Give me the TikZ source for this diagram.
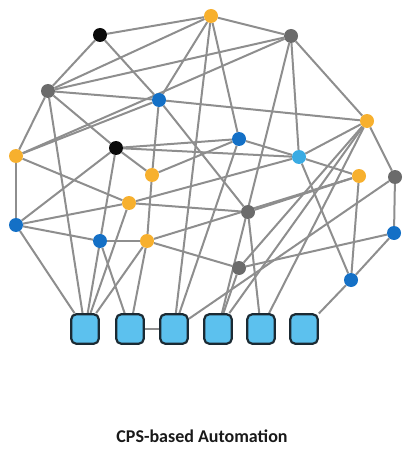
\documentclass[tikz,border=0pt]{standalone}
\usepackage{fontspec}
\setmainfont{Carlito}
\usetikzlibrary{backgrounds}
\definecolor{corange}{HTML}{F7B02E}
\definecolor{cblue}{HTML}{1470C6}
\definecolor{clight}{HTML}{3AABE3}
\definecolor{cgray}{HTML}{6B6B6B}
\definecolor{cblack}{HTML}{0A0A0A}
\definecolor{cedge}{HTML}{8E8E8E}
\definecolor{csqfill}{HTML}{5CC1EE}
\definecolor{csqline}{HTML}{1B2A33}
\begin{document}
\begin{tikzpicture}[x=1pt,y=-1pt,
  edge/.style={draw=cedge,line width=2pt},
  dot/.style={circle,inner sep=0pt,minimum size=14pt},
  ydot/.style={dot,fill=corange},
  bdot/.style={dot,fill=cblue},
  ldot/.style={dot,fill=clight},
  gdot/.style={dot,fill=cgray},
  kdot/.style={dot,fill=cblack},
  sq/.style={rectangle,rounded corners=5pt,fill=csqfill,draw=csqline,line width=2.2pt,minimum width=27.5pt,minimum height=29.5pt,inner sep=0pt},
  caption/.style={font=\bfseries\fontsize{18}{21}\selectfont,text=black!90}]
\useasboundingbox (0,0) rectangle (403,449);
% nodes
\node[kdot] (K1) at (100,35) {};
\node[ydot] (Y1) at (211,16) {};
\node[gdot] (G1) at (291,36) {};
\node[gdot] (G2) at (48,91) {};
\node[bdot] (B1) at (159,100) {};
\node[ydot] (Y2) at (367,121) {};
\node[kdot] (K2) at (116,148) {};
\node[bdot] (B2) at (239,139) {};
\node[ldot] (C1) at (299,157) {};
\node[ydot] (Y3) at (16,156) {};
\node[ydot] (Y4) at (152,175) {};
\node[ydot] (Y5) at (359,176) {};
\node[gdot] (G3) at (395,177) {};
\node[ydot] (Y6) at (129,203) {};
\node[gdot] (G4) at (248,212) {};
\node[bdot] (B3) at (16,225) {};
\node[bdot] (B4) at (100,241) {};
\node[ydot] (Y7) at (147,241) {};
\node[bdot] (B5) at (394,233) {};
\node[gdot] (G5) at (239,268) {};
\node[bdot] (B6) at (351,280) {};
\node[sq] (S1) at (85,329) {};
\node[sq] (S2) at (130,329) {};
\node[sq] (S3) at (174,329) {};
\node[sq] (S4) at (218,329) {};
\node[sq] (S5) at (261,329) {};
\node[sq] (S6) at (304,329) {};
\node[caption] (T) at (202,436) {CPS-based Automation};
% edges
\begin{pgfonlayer}{background}
\foreach \a/\b in {K1/Y1,K1/G2,K1/B1,
  Y1/G1,Y1/G2,Y1/B1,Y1/B2,Y1/S3,
  G1/G2,G1/Y2,G1/C1,G1/S4,G1/Y3,
  G2/B1,G2/Y3,G2/K2,G2/S1,
  B1/Y3,B1/Y4,B1/G4,B1/Y2,
  Y2/C1,Y2/G3,Y2/S4,Y2/G5,Y2/S5,
  C1/B2,C1/Y5,C1/B6,C1/Y6,
  B2/K2,B2/Y4,B2/S3,
  K2/Y4,K2/S1,K2/B3,K2/C1,
  Y3/B3,Y3/Y6,
  B3/Y6,B3/B4,B3/S1,
  Y6/S1,Y6/G4,
  Y4/Y7,
  Y7/B4,Y7/S1,Y7/S2,Y7/G5,Y7/Y5,
  B4/S2,S2/S3,
  G3/B5,G3/S3,
  Y5/G4,Y5/B6,
  B5/B6,B5/G5,
  G4/S5,G5/S4,S6/B6}
  \draw[edge] (\a) -- (\b);
\end{pgfonlayer}
\end{tikzpicture}
\end{document}
